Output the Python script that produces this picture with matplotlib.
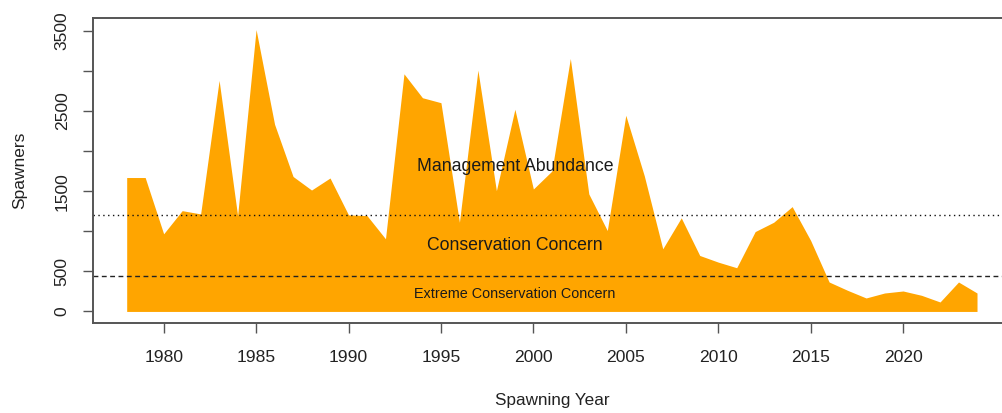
import matplotlib
matplotlib.use("Agg")
import matplotlib.pyplot as plt

plt.rcParams['font.family'] = ['Liberation Sans', 'DejaVu Sans']

years = list(range(1978, 2025))
spawners = [1670, 1670, 968, 1257, 1216, 2881, 1195, 3515, 2334, 1683,
            1514, 1664, 1204, 1195, 906, 2963, 2665, 2603, 1112, 3009,
            1506, 2521, 1527, 1750, 3154, 1465, 1009, 2446, 1692, 781,
            1167, 698, 615, 545, 996, 1112, 1307, 885, 367, 263,
            168, 230, 255, 201, 118, 367, 230]

management_line = 1200
extreme_line = 440

region_labels = ["Management Abundance", "Conservation Concern",
                 "Extreme Conservation Concern"]
label_y = [1804, 824, 222]
label_size = [12.7, 12.7, 10.4]

x_ticks = list(range(1980, 2021, 5))
y_ticks = [0, 500, 1000, 1500, 2000, 2500, 3000, 3500]
y_tick_labels = ["0", "500", "", "1500", "", "2500", "", "3500"]

fig = plt.figure(figsize=(10.03, 4.13), dpi=100)
# right edge sits just past the figure, the original image was cropped there
ax = fig.add_axes([0.0924, 0.2186, 0.9156, 0.7371])

ax.fill_between(years, spawners, 0, color="#FFA500", linewidth=0)
ax.axhline(management_line, color="#111111", lw=1.0, linestyle=(0, (1, 2.5)))
ax.axhline(extreme_line, color="#222222", lw=1.0, linestyle=(0, (3.5, 2.5)))

for txt, yy, fs in zip(region_labels, label_y, label_size):
    ax.text(1999, yy, txt, ha="center", va="center", fontsize=fs, color="#1a1a1a")

# R style axis ranges (4% padding)
xr = years[-1] - years[0]
ax.set_xlim(years[0] - 0.04 * xr, years[-1] + 0.04 * xr)
yr = max(spawners)
ax.set_ylim(-0.04 * yr, yr * 1.04)

ax.set_xticks(x_ticks)
ax.set_xticklabels([str(t) for t in x_ticks])
ax.set_yticks(y_ticks)
ax.set_yticklabels(y_tick_labels, rotation=90, va="center")

ax.tick_params(axis="both", direction="out", length=7.5, width=1.0,
               color="#555555", labelsize=12.6, labelcolor="#222222")
ax.tick_params(axis="x", pad=12)
ax.tick_params(axis="y", pad=9)

for s in ax.spines.values():
    s.set_color("#555555")
    s.set_linewidth(1.4)

ax.set_xlabel("Spawning Year", fontsize=12.3, color="#222222", labelpad=20)
ax.set_ylabel("Spawners", fontsize=12.5, color="#222222", labelpad=20)

fig.savefig("out.png", dpi=100)
